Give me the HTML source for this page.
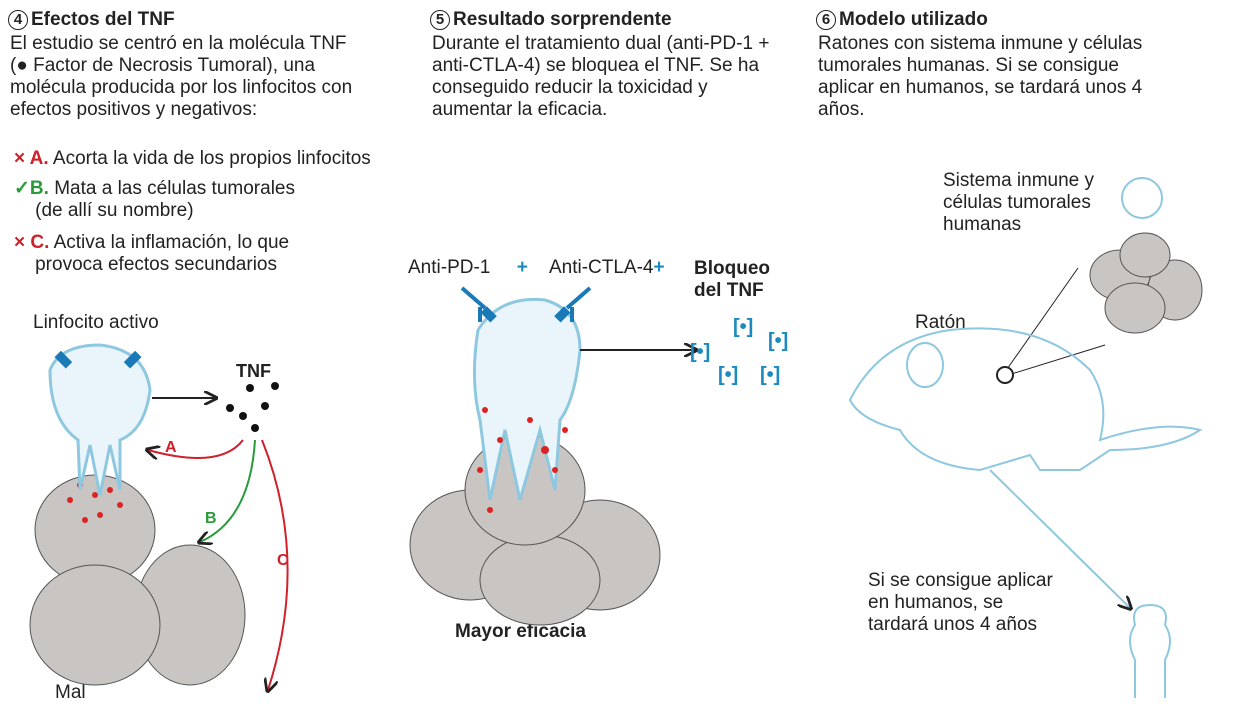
<!DOCTYPE html>
<html><head><meta charset="utf-8"><style>
body{margin:0;width:1243px;height:698px;overflow:hidden;background:#fff;font-family:"Liberation Sans",Arial,sans-serif;color:#222}
.t{position:absolute;font-size:19px;line-height:22px;white-space:nowrap}
.h{font-weight:bold;font-size:19px}
.n{display:inline-block;width:18px;height:18px;border:1.5px solid #222;border-radius:50%;text-align:center;line-height:18px;font-size:15px;font-weight:bold;margin-right:3px;vertical-align:1px}
.r{color:#d0202a;font-weight:bold}.g{color:#2a9a3a;font-weight:bold}
</style></head><body>
<div class="t h" style="left:8px;top:9px"><span class="n">4</span>Efectos del TNF</div>
<div class="t" style="left:10px;top:33px">El estudio se centró en la molécula TNF<br>(● Factor de Necrosis Tumoral), una<br>molécula producida por los linfocitos con<br>efectos positivos y negativos:</div>
<div class="t" style="left:14px;top:148px"><span class="r">× A.</span> Acorta la vida de los propios linfocitos</div>
<div class="t" style="left:14px;top:178px"><span class="g">✓B.</span> Mata a las células tumorales<br>&nbsp;&nbsp;&nbsp;&nbsp;(de allí su nombre)</div>
<div class="t" style="left:14px;top:232px"><span class="r">× C.</span> Activa la inflamación, lo que<br>&nbsp;&nbsp;&nbsp;&nbsp;provoca efectos secundarios</div>
<div class="t" style="left:33px;top:312px">Linfocito activo</div>
<div class="t h" style="left:236px;top:360px;font-size:18px">TNF</div>
<div class="t" style="left:55px;top:682px">Mal</div>

<div class="t h" style="left:430px;top:9px"><span class="n">5</span>Resultado sorprendente</div>
<div class="t" style="left:432px;top:33px">Durante el tratamiento dual (anti-PD-1 +<br>anti-CTLA-4) se bloquea el TNF. Se ha<br>conseguido reducir la toxicidad y<br>aumentar la eficacia.</div>
<div class="t" style="left:408px;top:257px">Anti-PD-1 &nbsp;&nbsp;&nbsp;&nbsp;<b style="color:#1a8ac0">+</b>&nbsp;&nbsp;&nbsp;&nbsp;Anti-CTLA-4<b style="color:#1a8ac0">+</b></div>
<div class="t h" style="left:694px;top:258px">Bloqueo<br>del TNF</div>
<div class="t h" style="left:455px;top:621px">Mayor eficacia</div>

<div class="t h" style="left:816px;top:9px"><span class="n">6</span>Modelo utilizado</div>
<div class="t" style="left:818px;top:33px">Ratones con sistema inmune y células<br>tumorales humanas. Si se consigue<br>aplicar en humanos, se tardará unos 4<br>años.</div>
<div class="t" style="left:943px;top:170px">Sistema inmune y<br>células tumorales<br>humanas</div>
<div class="t" style="left:915px;top:312px">Ratón</div>
<div class="t" style="left:868px;top:570px">Si se consigue aplicar<br>en humanos, se<br>tardará unos 4 años</div>

<svg width="1243" height="698" style="position:absolute;left:0;top:0">
<defs><marker id="a" viewBox="0 0 10 10" refX="8" refY="5" markerWidth="7" markerHeight="7" orient="auto"><path d="M0 0L10 5L0 10" fill="none" stroke="currentColor" stroke-width="2"/></marker></defs>
<g fill="#c9c5c3" stroke="#555" stroke-width="1">
<ellipse cx="95" cy="530" rx="60" ry="55"/><ellipse cx="190" cy="615" rx="55" ry="70"/><ellipse cx="95" cy="625" rx="65" ry="60"/>
</g>
<g fill="#d22" ><circle cx="80" cy="485" r="3"/><circle cx="95" cy="495" r="3"/><circle cx="110" cy="490" r="3"/><circle cx="70" cy="500" r="3"/><circle cx="120" cy="505" r="3"/><circle cx="100" cy="515" r="3"/><circle cx="85" cy="520" r="3"/></g>
<path d="M50 370 Q60 345 100 345 Q145 350 150 390 Q145 430 120 440 L120 490 L110 445 L100 495 L90 445 L80 490 L78 440 Q50 420 50 370Z" fill="#eaf5fb" stroke="#8ec8e0" stroke-width="3"/>
<rect x="55" y="355" width="16" height="9" fill="#1a7ab8" transform="rotate(45 63 360)"/><rect x="125" y="355" width="16" height="9" fill="#1a7ab8" transform="rotate(-45 133 360)"/>
<line x1="152" y1="398" x2="215" y2="398" stroke="#222" stroke-width="2" color="#222" marker-end="url(#a)"/>
<g fill="#111"><circle cx="250" cy="388" r="4"/><circle cx="275" cy="386" r="4"/><circle cx="230" cy="408" r="4"/><circle cx="265" cy="406" r="4"/><circle cx="243" cy="416" r="4"/><circle cx="255" cy="428" r="4"/></g>
<path d="M243 440 Q220 470 148 450" fill="none" stroke="#d0202a" stroke-width="2" color="#d0202a" marker-end="url(#a)"/>
<path d="M255 440 Q250 520 200 542" fill="none" stroke="#2a9a3a" stroke-width="2" color="#2a9a3a" marker-end="url(#a)"/>
<path d="M262 440 Q310 560 268 690" fill="none" stroke="#d0202a" stroke-width="2" color="#d0202a" marker-end="url(#a)"/>
<text x="165" y="452" fill="#d0202a" font-weight="bold" font-size="16" font-family="Liberation Sans">A</text>
<text x="205" y="523" fill="#2a9a3a" font-weight="bold" font-size="16" font-family="Liberation Sans">B</text>
<text x="277" y="565" fill="#d0202a" font-weight="bold" font-size="16" font-family="Liberation Sans">C</text>
<g fill="#c9c5c3" stroke="#555"><ellipse cx="470" cy="545" rx="60" ry="55"/><ellipse cx="600" cy="555" rx="60" ry="55"/><ellipse cx="540" cy="580" rx="60" ry="45"/><ellipse cx="525" cy="490" rx="60" ry="55"/></g>
<path d="M478 330 Q500 295 545 300 Q580 310 580 350 Q575 400 560 420 L555 490 L540 430 L520 500 L505 430 L490 500 L480 420 Q470 380 478 330Z" fill="#eaf5fb" stroke="#8ec8e0" stroke-width="3"/>
<g fill="#d22"><circle cx="485" cy="410" r="3"/><circle cx="500" cy="440" r="3"/><circle cx="530" cy="420" r="3"/><circle cx="545" cy="450" r="4"/><circle cx="480" cy="470" r="3"/><circle cx="490" cy="510" r="3"/><circle cx="565" cy="430" r="3"/><circle cx="555" cy="470" r="3"/></g>
<g stroke="#1a7ab8" stroke-width="4" fill="none"><path d="M462 288 L485 308 M480 307 L480 322"/><path d="M590 288 L567 308 M572 307 L572 322"/></g>
<rect x="482" y="310" width="14" height="9" fill="#1a7ab8" transform="rotate(45 489 314)"/><rect x="555" y="310" width="14" height="9" fill="#1a7ab8" transform="rotate(-45 562 314)"/>
<line x1="580" y1="350" x2="695" y2="350" stroke="#222" stroke-width="2" color="#222" marker-end="url(#a)"/>
<g font-family="Liberation Sans" font-weight="bold" font-size="20" fill="#1a8ac0">
<text x="733" y="333">[•]</text><text x="768" y="347">[•]</text><text x="690" y="358">[•]</text><text x="718" y="381">[•]</text><text x="760" y="381">[•]</text></g>
<g fill="#c9c5c3" stroke="#555"><ellipse cx="1120" cy="275" rx="30" ry="25"/><ellipse cx="1175" cy="290" rx="27" ry="30"/><ellipse cx="1135" cy="308" rx="30" ry="25"/><ellipse cx="1145" cy="255" rx="25" ry="22"/></g>
<circle cx="1142" cy="198" r="20" fill="#fff" stroke="#8ec8e0" stroke-width="2"/>
<path d="M1005 372 L1078 268 M1005 376 L1105 345" stroke="#222" stroke-width="1"/>
<circle cx="1005" cy="375" r="8" fill="#fff" stroke="#222" stroke-width="2"/>
<path d="M850 400 Q880 340 950 330 Q1040 320 1090 370 Q1110 400 1100 440 Q1160 420 1200 430 Q1170 450 1110 450 L1080 470 L1040 470 L1030 455 L980 470 Q920 465 900 430 Q860 420 850 400Z" fill="none" stroke="#8ec8e0" stroke-width="2"/>
<ellipse cx="925" cy="365" rx="18" ry="22" fill="none" stroke="#8ec8e0" stroke-width="2"/>
<line x1="990" y1="470" x2="1130" y2="608" stroke="#8ec8e0" stroke-width="2" color="#8ec8e0" marker-end="url(#a)"/>
<path d="M1135 698 L1135 660 Q1125 640 1135 625 Q1130 605 1150 605 Q1170 605 1165 625 Q1175 640 1165 660 L1165 698" fill="none" stroke="#8ec8e0" stroke-width="2"/>
</svg>
</body></html>
